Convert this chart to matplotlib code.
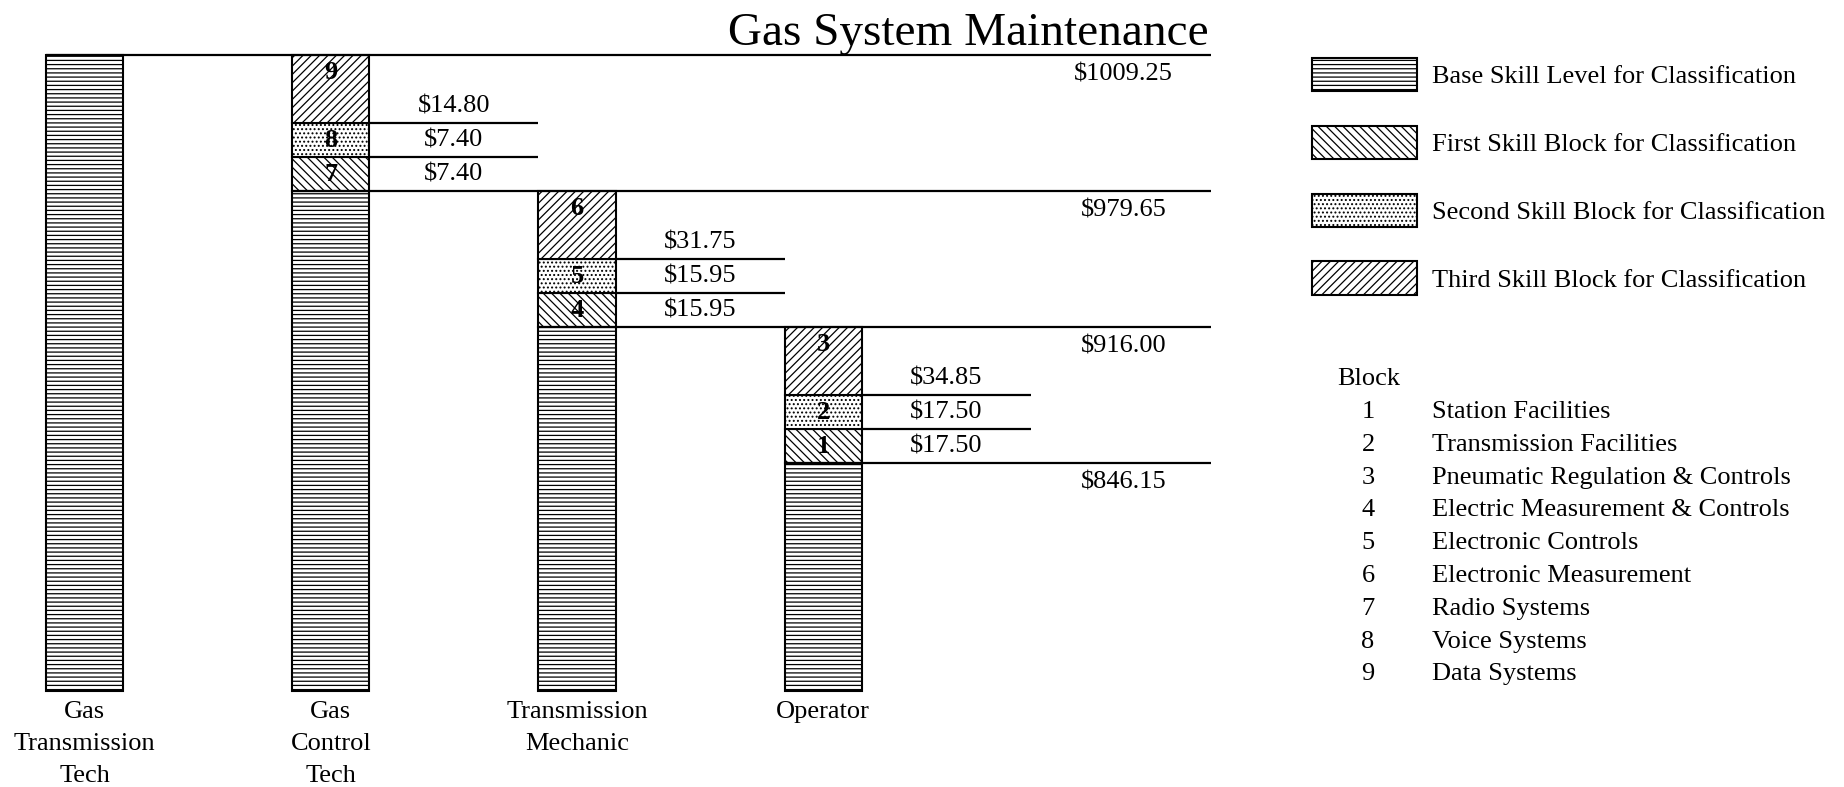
import numpy as np
import matplotlib.pyplot as plt

plt.rcParams['font.family'] = ['Liberation Serif', 'DejaVu Serif']
plt.rcParams['hatch.linewidth'] = 0.9

# Datos de la grafica
classifications = ["Gas\nTransmission\nTech", "Gas\nControl\nTech", "Transmission\nMechanic", "Operator"]
base_rates = [1009.25, 979.65, 916.00, 846.15]
block_ids = [[], [7, 8, 9], [4, 5, 6], [1, 2, 3]]
block_rates = [[], [7.40, 7.40, 14.80], [15.95, 15.95, 31.75], [17.50, 17.50, 34.85]]
# la grafica no esta a escala: alturas en unidades esquematicas
base_heights = [18.7, 14.7, 10.7, 6.7]
block_heights = [1, 1, 2]

legend_labels = ["Base Skill Level for Classification",
                 "First Skill Block for Classification",
                 "Second Skill Block for Classification",
                 "Third Skill Block for Classification"]
block_names = ["Station Facilities", "Transmission Facilities",
               "Pneumatic Regulation & Controls", "Electric Measurement & Controls",
               "Electronic Controls", "Electronic Measurement",
               "Radio Systems", "Voice Systems", "Data Systems"]

W, H = 1844, 787
fig = plt.figure(figsize=(W / 100, H / 100), dpi=100)
ax = fig.add_axes([0, 0, 1, 1])
ax.axis('off')
ax.set_xlim(-84.7 / 246.15, (W - 84.7) / 246.15)
ax.set_ylim((691 - H) / 34, 691 / 34)

hatches = ['----', '\\\\\\\\', '....', '////']
width = 0.313
lw = 1.5
fs = 19
line_end = 4.576

x = np.arange(len(classifications))
base = ax.bar(x, base_heights, width, color='white', edgecolor='black',
              hatch=hatches[0], linewidth=lw)
handles = [base, None, None, None]

for i in x:
    # linea larga del nivel base
    ax.hlines(base_heights[i], i - width / 2, line_end, color='black', lw=1.6)
    ax.text(4.22, base_heights[i] - 0.57, f"${base_rates[i]:.2f}",
            ha='center', va='center', fontsize=fs)
    bottom = base_heights[i]
    for k, (bid, rate) in enumerate(zip(block_ids[i], block_rates[i])):
        h = block_heights[k]
        b = ax.bar(i, h, width, bottom=bottom, color='white', edgecolor='black',
                   hatch=hatches[k + 1], linewidth=lw)
        if handles[k + 1] is None:
            handles[k + 1] = b
        ax.text(i, bottom + h - 0.5, str(bid), ha='center', va='center',
                fontsize=19, fontweight='bold')
        ax.text(i + 0.5, bottom + 0.5, f"${rate:.2f}", ha='center', va='center',
                fontsize=fs)
        if k < len(block_heights) - 1:
            ax.hlines(bottom + h, i + width / 2, i + 1 - width / 2, color='black', lw=1.6)
        bottom += h
    ax.text(i, -0.28, classifications[i], ha='center', va='top',
            fontsize=fs, linespacing=1.6)

fig.text(1209 / W, 1 - 45 / H, "Gas System Maintenance", ha='right',
         va='baseline', fontsize=34)

ax.legend(handles, legend_labels, loc='upper left',
          bbox_to_anchor=(1312 / W, 1 - 58 / H), bbox_transform=fig.transFigure,
          frameon=False, fontsize=fs, handlelength=3.98, handleheight=1.56,
          labelspacing=1.31, handletextpad=0.57, borderaxespad=0, borderpad=0)

# lista de bloques
fig.text(1337 / W, 1 - 379 / H, "Block", va='center', fontsize=fs)
for n, name in enumerate(block_names):
    y = 1 - (412 + n * 32.8) / H
    fig.text(1368 / W, y, str(n + 1), ha='center', va='center', fontsize=fs)
    fig.text(1432 / W, y, name, ha='left', va='center', fontsize=fs)

fig.savefig('out.png', dpi=100)
